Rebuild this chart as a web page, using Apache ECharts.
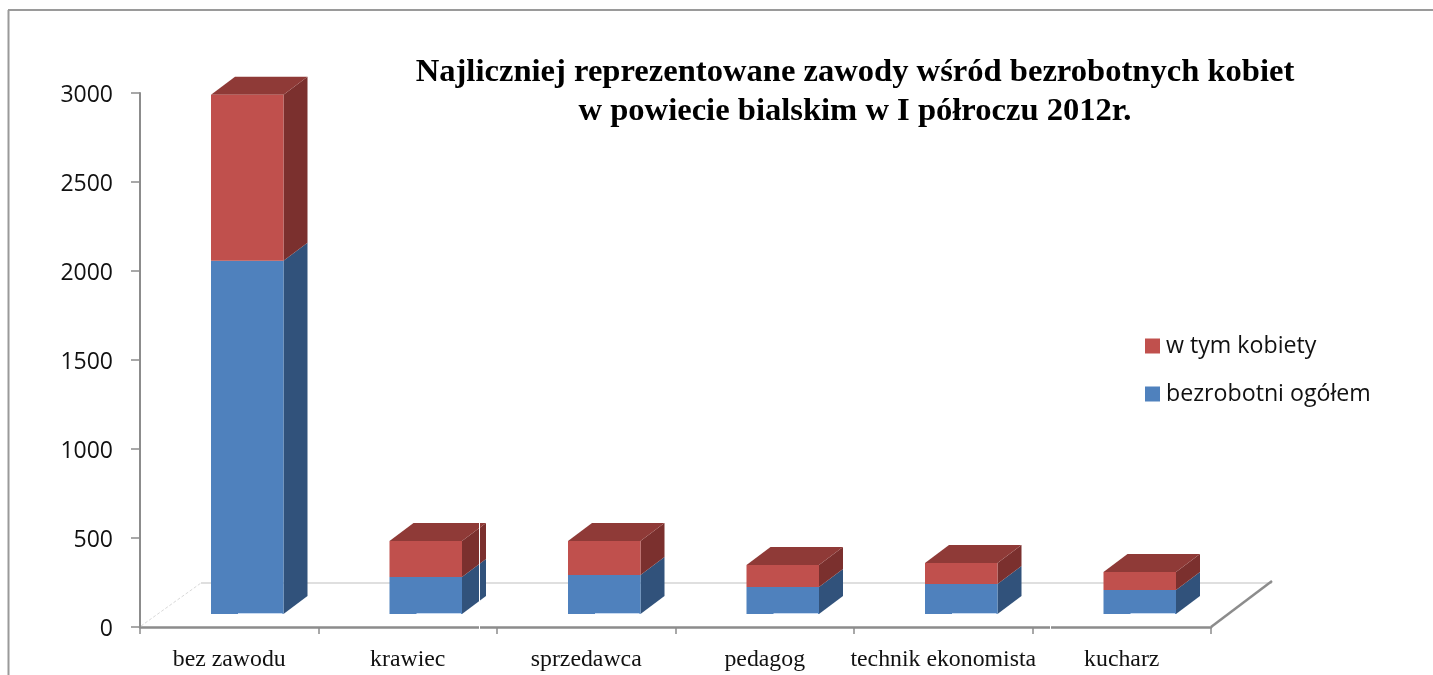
<!DOCTYPE html>
<html><head><meta charset="utf-8">
<script src="https://cdn.jsdelivr.net/npm/echarts@6/dist/echarts.min.js"></script>
<style>html,body{margin:0;padding:0;background:#fff}#c{width:1433px;height:675px}</style>
</head><body><div id="c"></div>
<script>
const categories = ['bez zawodu','krawiec','sprzedawca','pedagog','technik ekonomista','kucharz'];
const bezrobotniOgolem = [1985, 208, 219, 152, 169, 135];
const wTymKobiety = [932, 202, 191, 123, 118, 101];
const yTicks = {min:0, max:3000, interval:500};
const seriesNames = ['bezrobotni ogółem','w tym kobiety'];

const DX = 24, DY = 18, LIFT = 13, BAR_SHIFT = 18, BAR_W = 72.5;
const FRONT = {blue:'#4f81bd', red:'#c0504d'};
const SIDE  = {blue:'#31527b', red:'#7b302e'};
const TOP = '#8f3a37';

function poly(points, fill, z2){
  return {type:'polygon', z2:z2||0, shape:{points}, style:{fill, stroke:null}};
}
function cuboid(colorKey, withTop){
  return function(params, api){
    const i = api.value(0);
    const b = api.coord([i, api.value(1)]);
    const t = api.coord([i, api.value(2)]);
    const x0 = b[0] + BAR_SHIFT - BAR_W/2, x1 = x0 + BAR_W;
    const yb = b[1] - LIFT, yt = t[1] - LIFT;
    const kids = [
      poly([[x1,yb],[x1+DX,yb-DY],[x1+DX,yt-DY],[x1,yt]], SIDE[colorKey]),
      poly([[x0,yb],[x1,yb],[x1,yt],[x0,yt]], FRONT[colorKey], 2)
    ];
    if (withTop) kids.push(poly([[x0,yt],[x1,yt],[x1+DX,yt-DY],[x0+DX,yt-DY]], TOP, 1));
    else kids.push({type:'line', z2:3, shape:{x1:x0+27,y1:yb-0.5,x2:x1-1,y2:yb-0.5}, style:{stroke:'#c6d9f1',lineWidth:1.2}});
    return {type:'group', children:kids};
  };
}
function floor(params, api){
  const o = api.coord([0,0]);
  const band = api.size([1,0])[0];
  const xr = o[0] - band/2 + band*categories.length;
  const x0 = o[0] - band/2;
  return {type:'group', children:[
    {type:'line', shape:{x1:x0+61,y1:o[1]-44,x2:xr+61,y2:o[1]-44}, style:{stroke:'#dfdfdf',lineWidth:2}},
    {type:'line', shape:{x1:x0+1,y1:o[1]-1,x2:x0+61,y2:o[1]-44}, style:{stroke:'#d9d9d9',lineWidth:1,lineDash:[3,2]}},
    {type:'line', shape:{x1:xr,y1:o[1],x2:xr+61,y2:o[1]-46}, style:{stroke:'#8c8c8c',lineWidth:2.5}}
  ]};
}
const bluePts = categories.map((c,i)=>[i, 0, bezrobotniOgolem[i]]);
const redPts  = categories.map((c,i)=>[i, bezrobotniOgolem[i], bezrobotniOgolem[i]+wTymKobiety[i]]);

const chart = echarts.init(document.getElementById('c'), null, {renderer:'canvas'});
chart.setOption({
  animation:false,
  backgroundColor:'#fff',
  title:{
    text:'Najliczniej reprezentowane zawody wśród bezrobotnych kobiet\nw powiecie bialskim w I półroczu 2012r.',
    left:850, top:48, textAlign:'center',
    textStyle:{fontFamily:'Liberation Serif',fontWeight:'bold',fontSize:32.6,color:'#000',lineHeight:39}
  },
  legend:{
    orient:'vertical', left:1140, top:325, itemWidth:15, itemHeight:15, itemGap:16,
    icon:'rect',
    data:[seriesNames[1], seriesNames[0]],
    selectedMode:false,
    textStyle:{fontFamily:'Open Sans',fontSize:23.2,color:'#111',lineHeight:32,padding:[0,0,0,1]}
  },
  grid:{left:140, top:93, width:1071, height:534, containLabel:false},
  xAxis:{
    type:'category', data:categories,
    axisLine:{lineStyle:{color:'#8c8c8c',width:2.5}},
    axisTick:{show:true,length:7,alignWithLabel:false,lineStyle:{color:'#8c8c8c',width:1.5}},
    axisLabel:{interval:0,margin:21,fontFamily:'Liberation Serif',fontSize:23.8,color:'#111'},
    splitLine:{show:false}
  },
  yAxis:{
    type:'value', min:yTicks.min, max:yTicks.max, interval:yTicks.interval,
    axisLine:{show:true,lineStyle:{color:'#8c8c8c',width:2}},
    axisTick:{show:true,length:9,lineStyle:{color:'#8c8c8c',width:1.5}},
    axisLabel:{margin:27,formatter:v=>'{n|'+v+'}',rich:{n:{fontFamily:'Open Sans',fontSize:23,color:'#111',padding:[4,0,0,0]}}},
    splitLine:{show:false}
  },
  series:[
    {type:'custom', name:'floor', silent:true, z:1, renderItem:floor, data:[[0,0]], encode:{x:0,y:1}, clip:false},
    {type:'custom', name:seriesNames[0], z:2, renderItem:cuboid('blue',false), data:bluePts, encode:{x:0,y:[1,2]}, itemStyle:{color:FRONT.blue}, clip:false},
    {type:'custom', name:seriesNames[1], z:3, renderItem:cuboid('red',true), data:redPts, encode:{x:0,y:[1,2]}, itemStyle:{color:FRONT.red}, clip:false}
  ],
  graphic:[
    {type:'line', z:100, shape:{x1:8.5,y1:675,x2:8.5,y2:10}, style:{stroke:'#9a9a9a',lineWidth:2}},
    {type:'line', z:100, shape:{x1:8,y1:10,x2:1433,y2:10}, style:{stroke:'#9a9a9a',lineWidth:2}},
    {type:'line', z:100, shape:{x1:479.5,y1:522,x2:479.5,y2:640}, style:{stroke:'#ffffff',lineWidth:1}},
    {type:'line', z:100, shape:{x1:1050.5,y1:622,x2:1050.5,y2:635}, style:{stroke:'#ffffff',lineWidth:1}}
  ]
});
</script></body></html>
